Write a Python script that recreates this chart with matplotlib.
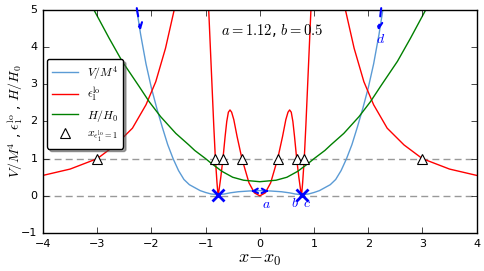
import numpy as np
import matplotlib
matplotlib.use("Agg")
import matplotlib.pyplot as plt

# values (right half, mirrored to the left)
x_v = [0.0, 0.2, 0.4, 0.55, 0.65, 0.77, 0.9, 1.0, 1.1, 1.2, 1.3, 1.4, 1.5,
       1.6, 1.7, 1.8, 1.9, 2.0, 2.1, 2.2, 2.28]
v_m4 = [0.14, 0.13, 0.11, 0.08, 0.05, 0.03, 0.05, 0.09, 0.14, 0.22, 0.30,
        0.44, 0.68, 1.0, 1.38, 1.85, 2.35, 2.9, 3.55, 4.35, 5.1]

x_eps = [0.0, 0.1, 0.2, 0.33, 0.42, 0.48, 0.52, 0.55, 0.58, 0.61, 0.64, 0.66,
         0.68, 0.72, 0.75, 0.77, 0.79, 0.82, 0.85, 0.88, 0.91, 0.94, 0.96,
         1.25,
         1.55, 1.58, 1.74, 1.92, 2.10, 2.35, 2.66, 3.0, 3.5, 4.0]
eps_lo = [0.0, 0.08, 0.35, 1.0, 1.6, 2.05, 2.25, 2.31, 2.25, 2.0, 1.6, 1.3,
          1.0, 0.5, 0.18, 0.0, 0.35, 1.0, 1.9, 2.9, 3.9, 4.9, 5.5,
          np.nan,
          5.3, 5.0, 3.97, 3.07, 2.45, 1.82, 1.37, 1.0, 0.72, 0.55]

x_h = [0.0, 0.3, 0.5, 0.7, 0.9, 1.0, 1.2, 1.31, 1.55, 1.83, 2.04, 2.23, 2.54,
       2.78, 3.06]
h_h0 = [0.38, 0.42, 0.50, 0.66, 0.88, 1.0, 1.22, 1.37, 1.68, 2.13, 2.53, 2.95,
        3.62, 4.24, 5.0]

x_eps1 = [0.33, 0.68, 0.82, 3.0]     # where eps_lo = 1
x_min = 0.77                          # minima (crosses)


def mirror(xs, ys):
    xs = np.asarray(xs, float)
    ys = np.asarray(ys, float)
    return np.r_[-xs[::-1], xs[1:]], np.r_[ys[::-1], ys[1:]]


plt.style.use("classic")
plt.rcParams["mathtext.fontset"] = "cm"

fig = plt.figure(figsize=(4.85, 2.71), dpi=100, facecolor="white")
ax = fig.add_axes([0.0887, 0.1402, 0.894, 0.823])

ax.axhline(0, color="0.6", ls="--", lw=1, dashes=(5, 3))
ax.axhline(1, color="0.6", ls="--", lw=1, dashes=(5, 3))

xx, yy = mirror(x_v, v_m4)
ax.plot(xx, yy, color="#5b9bd5", lw=1, label=r"$V/M^4$")
xx, yy = mirror(x_eps, eps_lo)
ax.plot(xx, yy, color="r", lw=1, label=r"$\epsilon_1^{\rm lo}$")
xx, yy = mirror(x_h, h_h0)
ax.plot(xx, yy, color="g", lw=1, label=r"$H/H_0$")

xt = np.r_[-np.array(x_eps1)[::-1], x_eps1]
ax.plot(xt, np.ones_like(xt), ls="none", marker="^", ms=7, mfc="white",
        mec="k", mew=0.8, label=r"$x_{\epsilon_1^{\rm lo}=1}$")

ax.plot([-x_min, x_min], [0.02, 0.02], ls="none", marker="x", ms=8,
        mew=2, color="b")

# arrows
aprops = dict(arrowstyle="->", color="b", lw=1.5, ls="--",
              mutation_scale=10, shrinkA=0, shrinkB=0)
ax.annotate("", xy=(-2.2, 4.45), xytext=(-2.27, 5.05), arrowprops=aprops)
ax.annotate("", xy=(2.19, 4.45), xytext=(2.24, 5.05), arrowprops=aprops)
cprops = dict(arrowstyle="->", color="b", lw=1.5, mutation_scale=8,
              shrinkA=0, shrinkB=0)
ax.annotate("", xy=(-0.16, 0.125), xytext=(-0.12, 0.128), arrowprops=cprops)
ax.annotate("", xy=(0.16, 0.125), xytext=(0.12, 0.128), arrowprops=cprops)

ax.text(0.13, -0.22, r"$a$", color="b", fontsize=10, ha="center", va="center")
ax.text(0.65, -0.2, r"$b$", color="b", fontsize=10, ha="center", va="center")
ax.text(0.87, -0.2, r"$c$", color="b", fontsize=10, ha="center", va="center")
ax.text(2.23, 4.22, r"$d$", color="b", fontsize=10, ha="center", va="center")

ax.text(-0.72, 4.46, r"$a=1.12$, $b=0.5$", fontsize=10.5, ha="left",
        va="center")

ax.set_xlim(-4, 4)
ax.set_ylim(-1, 5)
ax.set_xticks(range(-4, 5))
ax.set_yticks(range(-1, 6))
ax.tick_params(labelsize=8)
ax.set_xlabel(r"$x\!-\!x_0$", fontsize=13, labelpad=1)
ax.set_ylabel(r"$V/M^4$ , $\epsilon_1^{\rm lo}$ , $H/H_0$", fontsize=10)
ax.yaxis.set_label_coords(-0.042, 0.5)

leg = ax.legend(loc="upper left", bbox_to_anchor=(0.009, 0.78),
                fontsize=8.5, numpoints=1, handlelength=2.2, fancybox=True,
                shadow=True, borderaxespad=0, labelspacing=0.3,
                borderpad=0.4)

fig.savefig("out.png", dpi=100, facecolor="white")
